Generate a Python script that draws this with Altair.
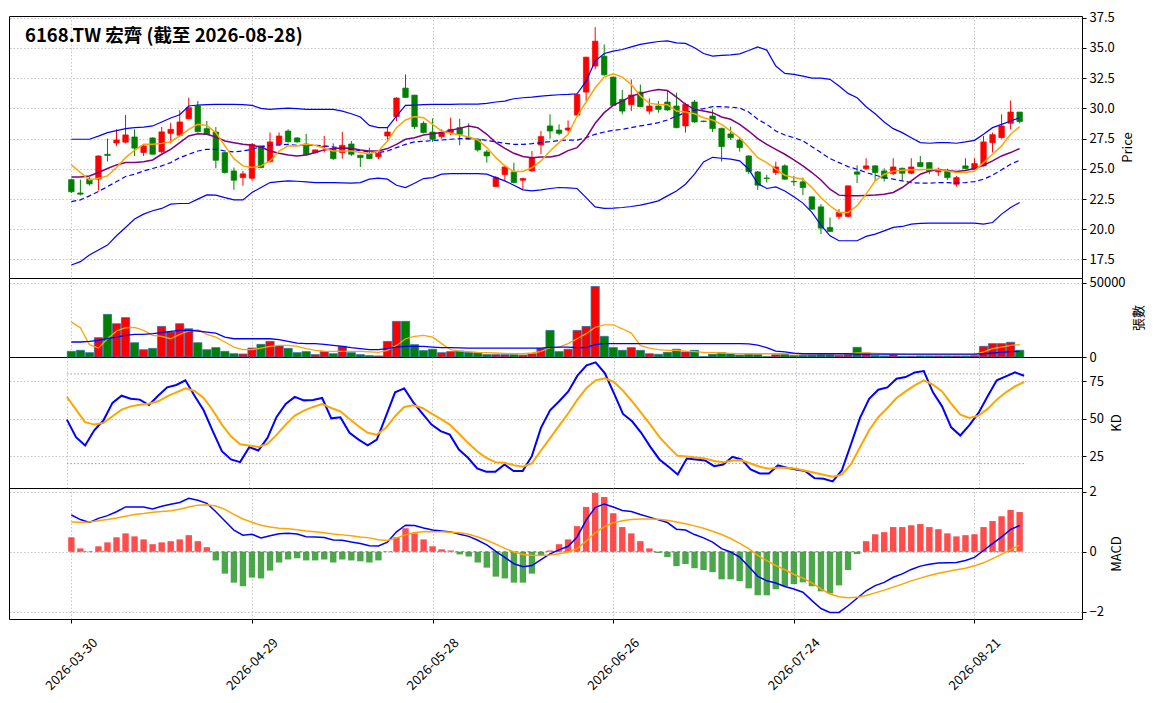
import altair as alt
import pandas as pd

TITLE = "6168.TW 宏齊 (截至 2026-08-28)"
TICK_POS = [0, 20, 40, 60, 80, 100]
TICK_LABELS = ["2026-03-30", "2026-04-29", "2026-05-28", "2026-06-26", "2026-07-24", "2026-08-21"]

OPEN = [24.1, 23.0, 24.15, 24.14, 26.2, 27.13, 27.2, 27.63, 26.34, 27.55,
        26.4, 27.93, 27.77, 29.14, 30.19, 28.32, 28.04, 26.34, 24.82, 24.27,
        24.22, 26.89, 25.6, 27.02, 28.12, 27.55, 27.05, 26.34, 26.8, 26.67,
        26.34, 27.05, 26.12, 26.25, 26.0, 27.71, 29.31, 31.67, 31.09, 28.76,
        28.04, 27.66, 27.99, 28.4, 27.6, 27.44, 26.39, 23.53, 24.52, 24.74,
        24.05, 24.82, 26.97, 28.54, 28.2, 28.2, 29.44, 31.34, 33.49, 34.31,
        32.58, 30.74, 30.3, 31.34, 29.77, 30.19, 30.52, 30.19, 28.54, 30.52,
        28.95, 29.36, 28.34, 27.88, 27.38, 26.06, 24.74, 24.24, 24.69, 25.24,
        23.96, 23.92, 22.68, 21.85, 20.15, 21.06, 21.06, 24.74, 25.02, 25.24,
        24.82, 24.6, 25.04, 24.63, 25.51, 25.51, 24.74, 24.82, 23.72, 25.24,
        24.96, 25.24, 27.16, 27.57, 28.76, 29.69]
HIGH = [24.15, 24.1, 24.3, 26.1, 27.49, 28.26, 29.45, 28.26, 27.0, 27.6,
        28.45, 28.8, 29.83, 30.87, 30.6, 28.95, 28.45, 26.4, 25.1, 24.82,
        27.1, 26.9, 28.0, 28.0, 28.26, 27.6, 27.88, 26.6, 27.71, 27.1,
        28.04, 27.3, 26.15, 26.75, 26.4, 28.4, 30.9, 32.8, 31.1, 28.92,
        29.17, 28.26, 29.22, 29.14, 28.76, 27.5, 26.56, 24.4, 25.24, 25.51,
        24.27, 26.47, 28.12, 29.5, 28.67, 29.0, 31.2, 34.25, 36.71, 35.28,
        32.6, 31.51, 32.39, 31.97, 30.82, 30.6, 31.42, 31.29, 30.46, 30.68,
        28.97, 29.91, 28.4, 28.48, 27.57, 26.12, 24.82, 24.5, 25.59, 25.37,
        24.41, 24.27, 22.7, 22.07, 20.97, 21.66, 23.6, 25.29, 25.87, 25.3,
        25.04, 25.87, 25.1, 25.87, 26.06, 25.55, 25.1, 25.01, 24.41, 25.87,
        25.87, 27.71, 27.99, 29.5, 30.65, 29.7]
LOW = [23.0, 22.8, 23.6, 23.2, 25.6, 26.89, 27.1, 26.06, 26.06, 26.2,
       26.3, 27.1, 27.7, 29.1, 28.0, 27.8, 25.04, 24.6, 23.26, 23.6,
       24.0, 25.04, 25.5, 26.9, 27.16, 27.16, 26.1, 26.25, 26.34, 25.73,
       25.84, 26.06, 25.15, 25.8, 25.8, 27.24, 28.92, 30.85, 28.3, 27.93,
       27.22, 27.5, 27.77, 26.94, 27.4, 26.42, 25.51, 23.5, 24.03, 23.8,
       23.31, 24.77, 26.2, 27.49, 27.77, 27.99, 29.3, 30.6, 33.21, 32.7,
       30.19, 29.5, 29.77, 30.1, 29.5, 29.64, 29.8, 28.34, 27.99, 28.8,
       28.85, 28.04, 25.59, 27.38, 26.42, 24.55, 23.26, 23.86, 24.47, 24.08,
       23.59, 22.82, 21.6, 19.6, 19.8, 20.84, 20.97, 23.81, 24.9, 24.0,
       23.94, 24.47, 24.05, 24.55, 25.15, 24.55, 24.41, 24.08, 23.53, 24.96,
       24.9, 25.18, 26.34, 27.49, 28.26, 28.76]
CLOSE = [23.1, 22.9, 23.75, 26.06, 26.1, 27.38, 27.8, 26.7, 26.89, 26.2,
         28.05, 28.26, 28.87, 30.05, 28.07, 27.85, 25.7, 24.69, 24.05, 24.58,
         27.02, 25.1, 27.22, 27.71, 27.24, 27.22, 26.17, 26.56, 26.85, 25.84,
         26.94, 26.2, 25.92, 25.84, 26.28, 28.04, 30.85, 30.9, 28.48, 27.99,
         27.44, 27.99, 28.26, 27.85, 27.45, 26.56, 26.06, 24.27, 25.15, 23.86,
         24.19, 25.92, 27.66, 28.12, 27.93, 28.37, 31.15, 34.23, 35.55, 32.77,
         30.24, 29.77, 31.1, 30.13, 30.19, 29.91, 29.86, 28.4, 30.32, 28.87,
         28.9, 28.32, 26.83, 27.57, 26.75, 24.77, 23.64, 24.2, 25.15, 24.14,
         23.92, 23.45, 21.66, 20.09, 19.82, 21.39, 23.59, 24.55, 25.24, 24.69,
         24.22, 25.15, 24.63, 25.15, 25.18, 24.82, 24.96, 24.27, 24.27, 25.02,
         25.43, 27.22, 27.82, 28.54, 29.69, 28.9]

MA5 = [25.32, 24.69, 24.08, 24.22, 24.41, 25.1, 25.92, 26.53, 27.02, 27.02,
       27.1, 27.24, 27.71, 28.26, 28.67, 28.59, 27.99, 26.89, 25.84, 25.24,
       25.1, 25.24, 25.65, 26.47, 26.89, 26.89, 27.02, 26.94, 26.67, 26.47,
       26.47, 26.47, 26.34, 26.25, 26.47, 27.3, 28.4, 29.03, 29.31, 29.22,
       28.67, 28.12, 27.93, 27.79, 27.63, 27.38, 26.75, 25.92, 25.24, 24.77,
       24.77, 25.1, 25.65, 26.47, 27.16, 27.85, 29.36, 30.52, 31.7, 32.58,
       32.85, 32.58, 31.97, 31.01, 30.41, 30.32, 30.3, 29.77, 29.69, 29.55,
       29.22, 29.03, 28.67, 28.12, 27.57, 26.75, 25.92, 25.51, 24.96, 24.47,
       24.27, 24.14, 23.45, 22.6, 21.94, 21.39, 21.39, 21.94, 22.9, 24.0,
       24.55, 24.8, 24.88, 24.91, 24.91, 24.96, 24.91, 24.82, 24.69, 24.69,
       24.82, 25.51, 26.2, 26.89, 27.85, 28.48]
MA10 = [24.33, 24.33, 24.41, 24.69, 25.02, 25.32, 25.51, 25.51, 25.59, 25.73,
        26.2, 26.61, 27.16, 27.71, 27.9, 27.85, 27.63, 27.3, 27.16, 27.02,
        26.94, 26.8, 26.47, 26.28, 26.14, 26.06, 26.14, 26.34, 26.56, 26.67,
        26.72, 26.69, 26.56, 26.47, 26.47, 26.67, 27.02, 27.44, 27.57, 27.79,
        27.9, 27.99, 28.18, 28.34, 28.54, 28.4, 27.85, 27.16, 26.69, 26.28,
        26.01, 25.92, 25.97, 25.97, 26.12, 26.5, 26.75, 27.57, 28.76, 29.64,
        30.24, 30.6, 31.01, 31.23, 31.42, 31.56, 31.48, 30.93, 30.32, 29.91,
        29.77, 29.64, 29.28, 29.09, 28.67, 28.12, 27.49, 27.02, 26.61, 26.2,
        25.73, 25.24, 24.69, 24.07, 23.31, 22.82, 22.76, 22.76, 22.8, 22.84,
        22.9, 23.04, 23.45, 24.0, 24.55, 24.82, 24.91, 24.85, 24.77, 24.85,
        25.02, 25.29, 25.65, 26.06, 26.34, 26.67]
MA20 = [22.29, 22.43, 22.76, 23.12, 23.53, 23.94, 24.36, 24.55, 24.82, 25.02,
        25.24, 25.51, 25.92, 26.2, 26.47, 26.61, 26.61, 26.47, 26.39, 26.47,
        26.61, 26.83, 26.94, 26.97, 27.02, 26.94, 26.94, 26.94, 26.89, 26.8,
        26.72, 26.61, 26.5, 26.39, 26.34, 26.47, 26.75, 27.02, 27.22, 27.27,
        27.33, 27.38, 27.44, 27.49, 27.49, 27.44, 27.35, 27.22, 27.1, 27.02,
        27.02, 27.08, 27.16, 27.24, 27.33, 27.37, 27.37, 27.57, 27.85, 28.04,
        28.18, 28.26, 28.4, 28.54, 28.67, 28.81, 29.03, 29.36, 29.64, 29.83,
        29.97, 30.13, 30.13, 30.1, 30.02, 29.69, 29.09, 28.67, 28.12, 27.79,
        27.57, 27.3, 26.83, 26.34, 25.84, 25.51, 25.18, 24.96, 24.69, 24.47,
        24.27, 24.14, 24.0, 23.86, 23.81, 23.81, 23.86, 23.86, 23.81, 23.86,
        23.94, 24.14, 24.47, 24.91, 25.38, 25.7]
BB_UP = [27.44, 27.44, 27.44, 27.7, 27.99, 28.15, 28.32, 28.4, 28.45, 28.54,
         28.87, 29.2, 29.47, 30.19, 30.27, 30.3, 30.32, 30.32, 30.32, 30.3,
         30.24, 30.0, 29.91, 29.97, 30.02, 29.97, 29.91, 29.91, 29.91, 29.91,
         29.77, 29.55, 29.28, 28.59, 28.4, 28.4, 29.36, 30.24, 30.27, 30.3,
         30.32, 30.32, 30.32, 30.35, 30.35, 30.35, 30.4, 30.52, 30.6, 30.79,
         30.87, 30.93, 31.01, 31.07, 31.12, 31.15, 31.2, 32.25, 33.9, 34.53,
         34.72, 34.86, 35.08, 35.28, 35.41, 35.52, 35.58, 35.41, 35.36, 35.0,
         34.53, 34.31, 34.37, 34.42, 34.5, 34.78, 35.08, 34.81, 33.49, 32.88,
         32.8, 32.66, 32.5, 32.5, 32.39, 31.84, 31.23, 30.87, 30.13, 29.55,
         28.87, 28.32, 27.99, 27.57, 27.16, 27.11, 27.16, 27.16, 27.11, 27.22,
         27.35, 27.85, 28.4, 28.67, 28.95, 29.22]
BB_LO = [17.04, 17.32, 17.87, 18.28, 18.69, 19.46, 20.15, 20.84, 21.25, 21.53,
         21.72, 22.07, 22.13, 22.13, 22.49, 22.84, 22.82, 22.62, 22.43, 22.43,
         23.04, 23.45, 23.86, 23.94, 24.0, 23.97, 23.92, 23.86, 23.86, 23.86,
         23.84, 23.81, 23.86, 24.14, 24.22, 24.14, 23.64, 23.45, 23.81, 24.19,
         24.27, 24.55, 24.6, 24.6, 24.6, 24.6, 24.55, 24.27, 24.0, 23.64,
         23.26, 23.17, 23.26, 23.37, 23.45, 23.42, 23.37, 22.62, 21.85, 21.72,
         21.74, 21.8, 21.88, 21.99, 22.16, 22.35, 22.76, 23.17, 23.72, 24.55,
         25.57, 25.95, 25.87, 25.79, 25.65, 24.96, 23.78, 23.37, 23.5, 23.17,
         22.68, 22.16, 21.39, 20.34, 19.46, 19.05, 19.05, 19.05, 19.41, 19.6,
         19.87, 20.15, 20.23, 20.42, 20.48, 20.51, 20.51, 20.51, 20.51, 20.51,
         20.51, 20.42, 20.56, 21.25, 21.8, 22.21]

VOLUME = [3800, 4500, 2900, 13000, 28700, 22400, 26500, 9600, 4900, 5800,
          20600, 16800, 22400, 19000, 9600, 4900, 6300, 3800, 2200, 2000,
          6000, 8500, 10500, 7400, 5800, 2900, 3600, 1600, 3600, 2200,
          7200, 2900, 1600, 900, 700, 10500, 24000, 24000, 8300, 4300,
          5200, 2900, 3600, 4000, 3100, 2900, 1600, 1600, 1600, 1600,
          1300, 2200, 5800, 17900, 3600, 5200, 17900, 20600, 47500, 13900,
          6300, 4500, 6300, 4500, 2200, 1800, 3100, 5200, 3400, 4500,
          200, 1800, 2900, 2200, 1300, 2000, 1600, 200, 1600, 2200,
          900, 1100, 1300, 1800, 1600, 1100, 1800, 6500, 2700, 1100,
          700, 1800, 450, 450, 700, 700, 700, 700, 700, 700,
          900, 7200, 9000, 9000, 9900, 4500]
VOL_MA5 = [23500, 19700, 8300, 6000, 12300, 17500, 19700, 20000, 17900, 14600,
           13900, 12300, 15200, 17500, 18400, 15200, 13400, 10100, 6700, 4900,
           4900, 6000, 7200, 7800, 7800, 7200, 5600, 4500, 4000, 3800,
           3800, 3800, 3800, 3400, 3100, 4500, 7800, 12300, 13900, 14600,
           13400, 9000, 4900, 4000, 3600, 3100, 2900, 2700, 2500, 2200,
           2200, 2700, 3800, 6300, 6700, 9000, 12300, 15700, 20000, 21700,
           21700, 19000, 16100, 7800, 6000, 4900, 4500, 4500, 4000, 3600,
           3100, 2900, 2700, 2500, 2200, 2200, 2200, 2200, 2200, 2200,
           2200, 2200, 2200, 2200, 2200, 2200, 2200, 2700, 2700, 2500,
           2200, 2000, 1800, 1600, 1600, 1600, 1600, 1600, 1600, 1600,
           1800, 3400, 5600, 6700, 7800, 8300]
VOL_MA20 = [10100, 10100, 10500, 11200, 12300, 13400, 14600, 15200, 15200, 15700,
            16400, 17300, 17900, 17900, 17500, 16800, 16100, 13400, 12300, 12300,
            12300, 12300, 12300, 11700, 10500, 9400, 9000, 9000, 8500, 7800,
            7200, 6300, 5600, 4900, 4900, 5600, 6700, 7200, 7200, 7200,
            6700, 6300, 6300, 6100, 6000, 6000, 6000, 6000, 6000, 6000,
            6000, 6000, 6000, 6500, 6700, 6700, 6300, 6300, 8300, 9000,
            9000, 9000, 9000, 9000, 9000, 9000, 9000, 9000, 9000, 9000,
            9000, 9000, 9000, 9000, 9000, 8800, 8000, 6300, 4000, 3400,
            2600, 2200, 2200, 2200, 2200, 2200, 2200, 2000, 1900, 1900,
            1900, 1900, 1900, 1900, 1900, 1900, 1900, 1900, 1900, 1900,
            1900, 2200, 2700, 3100, 3600, 3800]

K_VAL = [49.4, 37.7, 32.1, 42.3, 48.8, 60.6, 65.4, 63.4, 62.8, 59.2,
         65.4, 71.0, 72.6, 75.7, 65.4, 55.7, 41.7, 28.3, 22.8, 21.0,
         31.0, 28.8, 37.2, 51.2, 59.9, 64.6, 62.3, 62.6, 63.9, 50.3,
         51.0, 40.6, 36.1, 32.3, 36.1, 51.7, 67.7, 70.3, 61.0, 53.4,
         46.1, 41.7, 39.4, 29.4, 23.9, 16.8, 14.6, 14.6, 19.4, 15.0,
         15.0, 25.0, 43.9, 55.7, 61.7, 68.3, 78.8, 85.7, 87.7, 80.6,
         67.2, 53.2, 48.3, 40.6, 31.2, 22.8, 17.9, 12.8, 23.4, 22.8,
         22.1, 18.3, 19.4, 24.6, 22.8, 16.1, 13.4, 13.4, 18.8, 17.2,
         16.1, 15.0, 10.3, 9.9, 8.1, 15.4, 32.8, 50.6, 63.4, 69.4,
         71.0, 76.8, 77.9, 81.0, 81.9, 67.7, 58.3, 44.3, 38.8, 45.7,
         53.9, 65.0, 75.7, 78.3, 81.0, 78.8]
D_VAL = [64.6, 56.1, 47.7, 46.1, 47.2, 51.7, 56.1, 58.3, 59.4, 60.1,
         61.7, 65.0, 67.7, 70.3, 68.6, 63.9, 55.7, 46.1, 38.3, 33.0,
         32.1, 31.2, 33.2, 39.2, 46.1, 52.1, 55.4, 57.9, 59.9, 57.2,
         55.0, 49.9, 45.0, 40.6, 39.4, 43.9, 51.7, 57.9, 59.0, 57.2,
         53.4, 49.9, 46.1, 40.1, 33.9, 28.3, 23.9, 21.0, 20.6, 19.0,
         17.9, 20.1, 28.8, 37.0, 45.4, 53.7, 62.8, 70.6, 75.7, 77.0,
         74.6, 68.8, 61.7, 53.9, 46.1, 37.7, 31.2, 25.2, 24.8, 24.1,
         23.4, 21.7, 21.0, 22.1, 22.3, 20.1, 17.9, 16.6, 17.2, 17.2,
         16.6, 15.2, 13.9, 12.6, 11.2, 12.6, 19.4, 31.0, 42.3, 51.0,
         57.2, 63.9, 68.3, 72.3, 75.7, 72.8, 68.3, 60.1, 52.8, 50.6,
         52.1, 56.6, 62.8, 67.7, 71.7, 74.6]
KD_LEVELS = [80, 20]

DIF = [1.22, 1.07, 0.97, 1.11, 1.2, 1.33, 1.49, 1.49, 1.49, 1.42,
       1.51, 1.58, 1.64, 1.78, 1.71, 1.61, 1.33, 1.02, 0.72, 0.55,
       0.58, 0.46, 0.53, 0.6, 0.61, 0.59, 0.5, 0.49, 0.47, 0.39,
       0.38, 0.32, 0.27, 0.2, 0.19, 0.32, 0.66, 0.88, 0.87, 0.79,
       0.72, 0.69, 0.66, 0.58, 0.51, 0.38, 0.23, 0.01, -0.19, -0.4,
       -0.5, -0.46, -0.26, -0.07, 0.06, 0.18, 0.49, 1.05, 1.47, 1.59,
       1.49, 1.37, 1.34, 1.24, 1.15, 1.06, 0.97, 0.75, 0.72, 0.57,
       0.46, 0.32, 0.1, -0.01, -0.18, -0.49, -0.82, -0.97, -1.04, -1.16,
       -1.24, -1.35, -1.63, -1.89, -2.02, -2.02, -1.8, -1.55, -1.3, -1.13,
       -1.02, -0.85, -0.74, -0.59, -0.48, -0.42, -0.38, -0.37, -0.36, -0.29,
       -0.19, 0.04, 0.27, 0.49, 0.74, 0.87]
DEA = [0.99, 0.98, 0.99, 1.03, 1.07, 1.12, 1.18, 1.24, 1.27, 1.31,
       1.34, 1.36, 1.41, 1.49, 1.55, 1.56, 1.52, 1.41, 1.24, 1.09,
       0.98, 0.88, 0.82, 0.78, 0.76, 0.73, 0.69, 0.66, 0.63, 0.59,
       0.56, 0.53, 0.49, 0.46, 0.4, 0.37, 0.46, 0.56, 0.64, 0.66,
       0.66, 0.66, 0.65, 0.63, 0.58, 0.49, 0.38, 0.25, 0.11, -0.01,
       -0.09, -0.12, -0.13, -0.11, -0.07, -0.01, 0.1, 0.35, 0.63, 0.83,
       0.96, 1.03, 1.07, 1.09, 1.09, 1.08, 1.05, 0.99, 0.93, 0.86,
       0.78, 0.68, 0.57, 0.44, 0.28, 0.1, -0.12, -0.3, -0.46, -0.6,
       -0.75, -0.88, -1.04, -1.24, -1.41, -1.5, -1.53, -1.52, -1.46, -1.37,
       -1.28, -1.18, -1.08, -0.97, -0.88, -0.79, -0.72, -0.66, -0.6, -0.55,
       -0.47, -0.37, -0.23, -0.09, 0.07, 0.22]
HIST = [0.48, 0.11, -0.01, 0.18, 0.31, 0.48, 0.61, 0.51, 0.41, 0.25,
        0.31, 0.35, 0.41, 0.55, 0.35, 0.15, -0.29, -0.73, -1.03, -1.15,
        -0.86, -0.89, -0.63, -0.36, -0.26, -0.22, -0.29, -0.29, -0.26, -0.36,
        -0.26, -0.29, -0.32, -0.36, -0.29, -0.01, 0.48, 0.78, 0.61, 0.41,
        0.18, 0.08, 0.04, -0.09, -0.16, -0.36, -0.53, -0.83, -0.89, -1.03,
        -1.03, -0.73, -0.12, 0.04, 0.25, 0.41, 0.85, 1.49, 1.96, 1.82,
        1.28, 0.82, 0.61, 0.35, 0.11, -0.04, -0.18, -0.48, -0.41, -0.55,
        -0.61, -0.68, -0.92, -0.92, -0.98, -1.22, -1.45, -1.45, -1.25, -1.15,
        -1.08, -1.02, -1.15, -1.32, -1.39, -1.12, -0.61, -0.08, 0.35, 0.58,
        0.65, 0.82, 0.82, 0.88, 0.92, 0.82, 0.75, 0.61, 0.51, 0.55,
        0.58, 0.82, 1.02, 1.18, 1.39, 1.32]
MACD_ZERO = [0]

N = len(CLOSE)
df = pd.DataFrame({
    "i": list(range(N)), "open": OPEN, "high": HIGH, "low": LOW, "close": CLOSE,
    "ma5": MA5, "ma10": MA10, "ma20": MA20, "bbu": BB_UP, "bbl": BB_LO,
    "vol": VOLUME, "vma5": VOL_MA5, "vma20": VOL_MA20,
    "k": K_VAL, "d": D_VAL, "dif": DIF, "dea": DEA, "hist": HIST,
})
df["dir"] = ["up" if c >= o else "down" for o, c in zip(OPEN, CLOSE)]
df["hdir"] = ["up" if h >= 0 else "down" for h in HIST]

FONT = "Noto Sans CJK TC"
LBL = 13
W = 1073
X_DOMAIN = [-6.35, 111.35]
RED, GREEN = "#ff0000", "#008000"
dir_color = alt.Color("dir:N", scale=alt.Scale(domain=["up", "down"], range=[RED, GREEN]), legend=None)
hist_color = alt.Color("hdir:N", scale=alt.Scale(domain=["up", "down"], range=[RED, GREEN]), legend=None)

label_expr = "[" + ",".join("'%s'" % s for s in TICK_LABELS) + "][round(datum.value / 20)]"


def xenc(field="i", bottom=False):
    if bottom:
        axis = alt.Axis(values=TICK_POS, labelExpr=label_expr, labelAngle=315,
                        labelAlign="center", labelBaseline="middle", labelPadding=41,
                        labelFont=FONT, labelFontSize=LBL, labelColor="black",
                        ticks=True, tickSize=4, tickColor="black", domain=False, grid=True, title=None)
    else:
        axis = alt.Axis(values=TICK_POS, labels=False, ticks=False, domain=False,
                        grid=True, title=None)
    return alt.X(f"{field}:Q", scale=alt.Scale(domain=X_DOMAIN, nice=False, zero=False), axis=axis)


def yenc(field, domain, values, fmt, title, zero=False):
    return alt.Y(f"{field}:Q",
                 scale=alt.Scale(domain=domain, nice=False, zero=zero),
                 axis=alt.Axis(values=values, format=fmt, orient="right", title=title,
                               titleAngle=270, titleBaseline="top", titlePadding=7,
                               labelFont=FONT, labelFontSize=LBL, labelColor="black",
                               titleFont=FONT, titleFontSize=LBL, titleFontWeight="normal",
                               titleColor="black", labelPadding=3,
                               tickSize=4, tickColor="black", domain=False, grid=True),
                 title=title)


base = alt.Chart(df)

# ---- Price panel
P_DOM = [15.97, 37.63]
P_VALS = [17.5, 20.0, 22.5, 25.0, 27.5, 30.0, 32.5, 35.0, 37.5]
py = lambda f: yenc(f, P_DOM, P_VALS, ".1f", "Price")

wick = base.mark_rule(strokeWidth=1).encode(x=xenc(), y=py("low"), y2="high:Q", color=dir_color)
body = base.mark_bar(size=5.5, strokeWidth=0.7).encode(
    x=xenc(), y=py("open"), y2="close:Q", color=dir_color,
    stroke=alt.Stroke("dir:N", scale=alt.Scale(domain=["up", "down"], range=[RED, GREEN]), legend=None))
l_bbu = base.mark_line(color="#0000ff", strokeWidth=1.2).encode(x=xenc(), y=py("bbu"))
l_bbl = base.mark_line(color="#0000ff", strokeWidth=1.2).encode(x=xenc(), y=py("bbl"))
l_mid = base.mark_line(color="#0000ff", strokeWidth=1.2, strokeDash=[5, 3]).encode(x=xenc(), y=py("ma20"))
l_ma10 = base.mark_line(color="#800080", strokeWidth=1.5).encode(x=xenc(), y=py("ma10"))
l_ma5 = base.mark_line(color="#ffa500", strokeWidth=1.5).encode(x=xenc(), y=py("ma5"))
title_txt = alt.Chart(pd.DataFrame({"t": [TITLE]})).mark_text(
    align="left", baseline="middle", font=FONT, fontSize=18.5, fontWeight="bold", color="black"
).encode(text="t:N", x=alt.value(16), y=alt.value(20))

price = alt.layer(wick, body, l_bbu, l_bbl, l_mid, l_ma10, l_ma5, title_txt).properties(width=W, height=262)

# ---- Volume panel
V_DOM = [0, 53200]
vy = lambda f: yenc(f, V_DOM, [0, 50000], "d", "張數", zero=True)
vbars = base.mark_bar(size=8.2, stroke="#2a6fad", strokeWidth=0.8).encode(
    x=xenc(), y=vy("vol"), color=dir_color)
v5 = base.mark_line(color="#ffa500", strokeWidth=1.3).encode(x=xenc(), y=vy("vma5"))
v20 = base.mark_line(color="#0000ff", strokeWidth=1.3).encode(x=xenc(), y=vy("vma20"))
volume = alt.layer(vbars, v5, v20).properties(width=W, height=79)

# ---- KD panel
K_DOM = [3.7, 91.3]
ky = lambda f: yenc(f, K_DOM, [25, 50, 75], "d", "KD")
lev = pd.DataFrame({"lvl": KD_LEVELS, "x0": [0] * len(KD_LEVELS), "x1": [N - 1] * len(KD_LEVELS)})
kd_lev = alt.Chart(lev).mark_rule(color="#9a9a9a", strokeWidth=1, strokeDash=[1.5, 2]).encode(
    x=xenc("x0"), x2="x1:Q", y=ky("lvl"))
k_line = base.mark_line(color="#0000ff", strokeWidth=2).encode(x=xenc(), y=ky("k"))
d_line = base.mark_line(color="#ffa500", strokeWidth=2).encode(x=xenc(), y=ky("d"))
kd = alt.layer(kd_lev, k_line, d_line).properties(width=W, height=131)

# ---- MACD panel
M_DOM = [-2.24, 2.12]
my = lambda f: yenc(f, M_DOM, [-2, 0, 2], "d", "MACD")
zero_df = pd.DataFrame({"z": MACD_ZERO, "x0": [0], "x1": [N - 1]})
hbars = base.mark_bar(size=6.4, opacity=0.7).encode(x=xenc(bottom=True), y=my("hist"), color=hist_color)
zline = alt.Chart(zero_df).mark_rule(color="#808080", strokeWidth=1, strokeDash=[3, 3]).encode(
    x=xenc("x0", bottom=True), x2="x1:Q", y=my("z"))
dif_line = base.mark_line(color="#0000ff", strokeWidth=1.5).encode(x=xenc(bottom=True), y=my("dif"))
dea_line = base.mark_line(color="#ffa500", strokeWidth=1.5).encode(x=xenc(bottom=True), y=my("dea"))
macd = alt.layer(hbars, zline, dif_line, dea_line).properties(width=W, height=131)

chart = alt.vconcat(price, volume, kd, macd, spacing=0, bounds="flush").properties(
    padding={"left": 0, "top": 3, "right": 5, "bottom": 5},
    background="white"
).configure_view(
    stroke="black", strokeWidth=1
).configure_axis(
    gridColor="#b8b8b8", gridDash=[1.5, 2], gridWidth=0.8
)

chart.save("out.html", embed_options={"renderer": "svg", "actions": False})
